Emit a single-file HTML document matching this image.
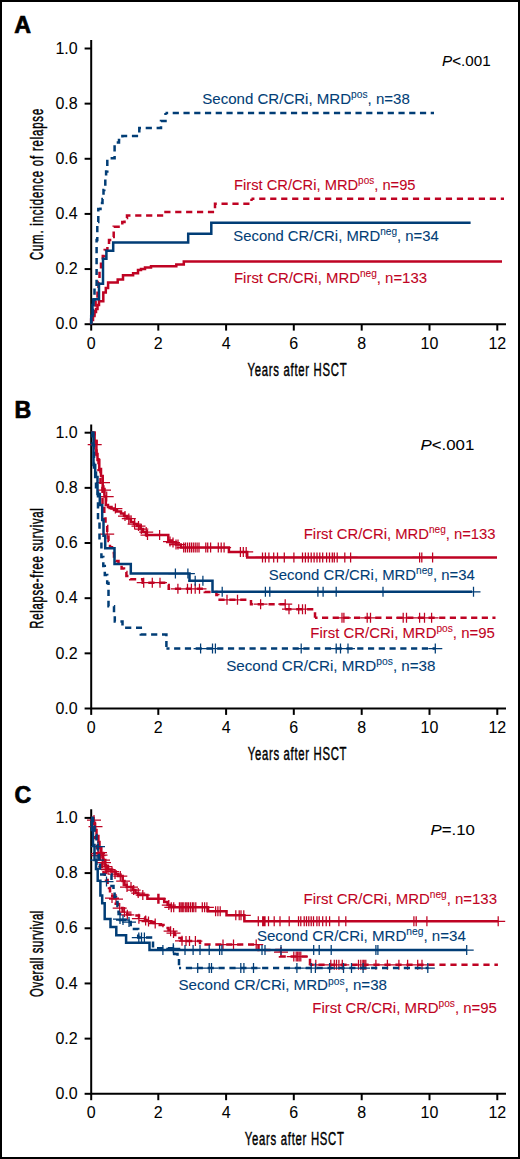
<!DOCTYPE html>
<html><head><meta charset="utf-8"><style>
html,body{margin:0;padding:0;background:#fff;}
body{width:520px;height:1159px;overflow:hidden;}
svg{display:block;}
text{font-family:"Liberation Sans",sans-serif;}
.w{stroke-width:0.4px;}
</style></head><body>
<svg width="520" height="1159" viewBox="0 0 520 1159" font-family="Liberation Sans, sans-serif">
<rect x="0" y="0" width="520" height="1159" fill="#fff"/>
<rect x="1" y="1" width="518" height="1157" fill="none" stroke="#000" stroke-width="2"/>
<text x="14.2" y="33.4" font-size="23.2" font-weight="bold" stroke="#000" stroke-width="0.7">A</text>
<path d="M91.2 40.0V324.2H506.0" fill="none" stroke="#000" stroke-width="2"/>
<path d="M84.6 324.20H91.2" stroke="#000" stroke-width="2"/>
<text x="77.7" y="329.40" font-size="16" text-anchor="end" stroke="#000" stroke-width="0.05">0.0</text>
<path d="M84.6 269.06H91.2" stroke="#000" stroke-width="2"/>
<text x="77.7" y="274.26" font-size="16" text-anchor="end" stroke="#000" stroke-width="0.05">0.2</text>
<path d="M84.6 213.92H91.2" stroke="#000" stroke-width="2"/>
<text x="77.7" y="219.12" font-size="16" text-anchor="end" stroke="#000" stroke-width="0.05">0.4</text>
<path d="M84.6 158.78H91.2" stroke="#000" stroke-width="2"/>
<text x="77.7" y="163.98" font-size="16" text-anchor="end" stroke="#000" stroke-width="0.05">0.6</text>
<path d="M84.6 103.64H91.2" stroke="#000" stroke-width="2"/>
<text x="77.7" y="108.84" font-size="16" text-anchor="end" stroke="#000" stroke-width="0.05">0.8</text>
<path d="M84.6 48.50H91.2" stroke="#000" stroke-width="2"/>
<text x="77.7" y="53.70" font-size="16" text-anchor="end" stroke="#000" stroke-width="0.05">1.0</text>
<path d="M91.20 324.2V330.60" stroke="#000" stroke-width="2"/>
<text x="91.20" y="348.80" font-size="16" text-anchor="middle" stroke="#000" stroke-width="0.05">0</text>
<path d="M158.30 324.2V330.60" stroke="#000" stroke-width="2"/>
<text x="158.30" y="348.80" font-size="16" text-anchor="middle" stroke="#000" stroke-width="0.05">2</text>
<path d="M226.10 324.2V330.60" stroke="#000" stroke-width="2"/>
<text x="226.10" y="348.80" font-size="16" text-anchor="middle" stroke="#000" stroke-width="0.05">4</text>
<path d="M293.80 324.2V330.60" stroke="#000" stroke-width="2"/>
<text x="293.80" y="348.80" font-size="16" text-anchor="middle" stroke="#000" stroke-width="0.05">6</text>
<path d="M361.70 324.2V330.60" stroke="#000" stroke-width="2"/>
<text x="361.70" y="348.80" font-size="16" text-anchor="middle" stroke="#000" stroke-width="0.05">8</text>
<path d="M429.50 324.2V330.60" stroke="#000" stroke-width="2"/>
<text x="429.50" y="348.80" font-size="16" text-anchor="middle" stroke="#000" stroke-width="0.05">10</text>
<path d="M497.30 324.2V330.60" stroke="#000" stroke-width="2"/>
<text x="497.30" y="348.80" font-size="16" text-anchor="middle" stroke="#000" stroke-width="0.05">12</text>
<text transform="translate(42.8 184.45) rotate(-90) scale(0.6 1)" font-size="18.9" text-anchor="middle" stroke="#000" stroke-width="0.45" textLength="252.17" lengthAdjust="spacing">Cum. incidence of relapse</text>
<text transform="translate(297.10 375.5) scale(0.6 1)" font-size="18.9" text-anchor="middle" stroke="#000" stroke-width="0.45" textLength="165.00" lengthAdjust="spacing">Years after HSCT</text>
<path d="M91.2 324.2V318H94V310H95.6V300H97.5V290H98.5V282H99.5V270H101V262H102.8V256H104.7V250H107.4V244H109V240H111.5V237H113.7V226.7H122.3V222H124.5V218H127V215.6H165.5V212H215V203.8H251.5V198.8" fill="none" stroke="#bf0323" stroke-width="2.5" stroke-dasharray="6.2,4.7"/>
<path d="M251.5 198.8H504.0" fill="none" stroke="#bf0323" stroke-width="2.5" stroke-dasharray="6.2,4.78" stroke-dashoffset="3.28"/>
<path d="M91.2 324.2V320H93V316H94.5V312H96V309H97.5V305H99V301.2H103.3V292.5H105.8V288H108.1V282.4H117.7V279.5H123V275.2H133.1V273.3H138V270H141V269H145V267.5H151V266.2H176.3V264.5H183.8V261.4H502" fill="none" stroke="#bf0323" stroke-width="2.5" stroke-linejoin="miter"/>
<path d="M91.2 324.2V316H93V300H94.5V286H96.6V240H97.3V222H98.3V209H100.5V203H102.5V199H103.5V190H104.3V186H105.3V178H106.1V171.6H107.3V158.3H114.6V142.6H119V140H122.4V136H139.3V128H161V121H165.5V113.0" fill="none" stroke="#013d76" stroke-width="2.5" stroke-dasharray="6.2,4.7"/>
<path d="M165.5 113.0H434.0" fill="none" stroke="#013d76" stroke-width="2.5" stroke-dasharray="6.2,4.55" stroke-dashoffset="3.55"/>
<path d="M91.2 324.2V316H92.5V305H93.5V299.2H99V283.8H103V258.8H106.4V250.7H113.2V242.5H188.2V233.7H211.3V222.7H470.6" fill="none" stroke="#013d76" stroke-width="2.5" stroke-linejoin="miter"/>
<text x="202.3" y="103.5" fill="#013d76" stroke="#013d76" stroke-width="0.08" font-size="15" textLength="207.5" lengthAdjust="spacingAndGlyphs">Second CR/CRi, MRD<tspan font-size="10.2" dy="-5.9">pos</tspan><tspan dy="5.9">, n=38</tspan></text>
<text x="234.0" y="189.8" fill="#bf0323" stroke="#bf0323" stroke-width="0.08" font-size="15" textLength="181.5" lengthAdjust="spacingAndGlyphs">First CR/CRi, MRD<tspan font-size="10.2" dy="-5.9">pos</tspan><tspan dy="5.9">, n=95</tspan></text>
<text x="233.3" y="241.3" fill="#013d76" stroke="#013d76" stroke-width="0.08" font-size="15" textLength="205.5" lengthAdjust="spacingAndGlyphs">Second CR/CRi, MRD<tspan font-size="10.2" dy="-5.9">neg</tspan><tspan dy="5.9">, n=34</tspan></text>
<text x="234.0" y="283.3" fill="#bf0323" stroke="#bf0323" stroke-width="0.08" font-size="15" textLength="193.0" lengthAdjust="spacingAndGlyphs">First CR/CRi, MRD<tspan font-size="10.2" dy="-5.9">neg</tspan><tspan dy="5.9">, n=133</tspan></text>
<text x="442.0" y="65.5" font-size="15.2" stroke="#000" stroke-width="0.05" textLength="48.6" lengthAdjust="spacingAndGlyphs"><tspan font-style="italic">P</tspan>&lt;.001</text>
<text x="14.6" y="417.6" font-size="23.2" font-weight="bold" stroke="#000" stroke-width="0.7">B</text>
<path d="M91.2 424.4V708.5H506.0" fill="none" stroke="#000" stroke-width="2"/>
<path d="M84.6 708.50H91.2" stroke="#000" stroke-width="2"/>
<text x="77.7" y="713.70" font-size="16" text-anchor="end" stroke="#000" stroke-width="0.05">0.0</text>
<path d="M84.6 653.34H91.2" stroke="#000" stroke-width="2"/>
<text x="77.7" y="658.54" font-size="16" text-anchor="end" stroke="#000" stroke-width="0.05">0.2</text>
<path d="M84.6 598.18H91.2" stroke="#000" stroke-width="2"/>
<text x="77.7" y="603.38" font-size="16" text-anchor="end" stroke="#000" stroke-width="0.05">0.4</text>
<path d="M84.6 543.02H91.2" stroke="#000" stroke-width="2"/>
<text x="77.7" y="548.22" font-size="16" text-anchor="end" stroke="#000" stroke-width="0.05">0.6</text>
<path d="M84.6 487.86H91.2" stroke="#000" stroke-width="2"/>
<text x="77.7" y="493.06" font-size="16" text-anchor="end" stroke="#000" stroke-width="0.05">0.8</text>
<path d="M84.6 432.70H91.2" stroke="#000" stroke-width="2"/>
<text x="77.7" y="437.90" font-size="16" text-anchor="end" stroke="#000" stroke-width="0.05">1.0</text>
<path d="M91.20 708.5V714.90" stroke="#000" stroke-width="2"/>
<text x="91.20" y="733.10" font-size="16" text-anchor="middle" stroke="#000" stroke-width="0.05">0</text>
<path d="M158.30 708.5V714.90" stroke="#000" stroke-width="2"/>
<text x="158.30" y="733.10" font-size="16" text-anchor="middle" stroke="#000" stroke-width="0.05">2</text>
<path d="M226.10 708.5V714.90" stroke="#000" stroke-width="2"/>
<text x="226.10" y="733.10" font-size="16" text-anchor="middle" stroke="#000" stroke-width="0.05">4</text>
<path d="M293.80 708.5V714.90" stroke="#000" stroke-width="2"/>
<text x="293.80" y="733.10" font-size="16" text-anchor="middle" stroke="#000" stroke-width="0.05">6</text>
<path d="M361.70 708.5V714.90" stroke="#000" stroke-width="2"/>
<text x="361.70" y="733.10" font-size="16" text-anchor="middle" stroke="#000" stroke-width="0.05">8</text>
<path d="M429.50 708.5V714.90" stroke="#000" stroke-width="2"/>
<text x="429.50" y="733.10" font-size="16" text-anchor="middle" stroke="#000" stroke-width="0.05">10</text>
<path d="M497.30 708.5V714.90" stroke="#000" stroke-width="2"/>
<text x="497.30" y="733.10" font-size="16" text-anchor="middle" stroke="#000" stroke-width="0.05">12</text>
<text transform="translate(42.8 568.45) rotate(-90) scale(0.6 1)" font-size="18.9" text-anchor="middle" stroke="#000" stroke-width="0.45" textLength="200.83" lengthAdjust="spacing">Relapse-free survival</text>
<text transform="translate(297.12 759.6) scale(0.6 1)" font-size="18.9" text-anchor="middle" stroke="#000" stroke-width="0.45" textLength="164.42" lengthAdjust="spacing">Years after HSCT</text>
<path d="M91.2 432.7H94.5V441H96.5V455H98.5V470H100.5V485H102.5V505H104.3V518.5H105.5V526H107.2V534H108.5V541H110V547.3H112V553H114V558H115.8V561H118.5V565H121.6V568.5H124V572H126.4V576H130.2V579.2H142.7V582.7H166.8V585H168.7V588.8H204.8V592H216.4V595H218.3V599.8H251V604.2H286.5V609.2H315.0V617.8" fill="none" stroke="#bf0323" stroke-width="2.5" stroke-dasharray="6.2,4.7"/>
<path d="M315.0 617.8H495.5" fill="none" stroke="#bf0323" stroke-width="2.5" stroke-dasharray="6.2,4.45" stroke-dashoffset="3.65"/>
<path d="M91.2 432.7H94.6V441H96.4V454H97.5V460H99.3V469H101V476H102.7V489H104.5V496.5H105.8V505H108V507H111.5V508.5H114V510H117V511.5H121V513.5H124V516H127V518.5H130.8V522H134V524H137V526H140.4V529H143V532H146V535H168.3V540.4H172V542.5H176V544.5H180.8V547.5H228.9V551.9H247.2V557.4H497" fill="none" stroke="#bf0323" stroke-width="2.5" stroke-linejoin="miter"/>
<path d="M87.7 444.5h14M94.7 439.5v10M96.0 482.6h14M103.0 477.6v10M97.0 490.2h14M104.0 485.2v10M99.7 496.5h14M106.7 491.5v10M108.4 508.5h14M115.4 503.5v10M118.0 516.0h14M125.0 511.0v10M121.8 518.5h14M128.8 513.5v10M127.6 524.0h14M134.6 519.0v10M131.5 526.0h14M138.5 521.0v10M134.3 529.0h14M141.3 524.0v10M139.2 532.0h14M146.2 527.0v10M140.5 535.0h14M147.5 530.0v10M152.6 535.0h14M159.6 530.0v10M163.0 541.5h14M170.0 536.5v10M166.0 542.5h14M173.0 537.5v10M169.0 544.5h14M176.0 539.5v10M171.0 544.5h14M178.0 539.5v10" fill="none" stroke="#bf0323" stroke-width="1.25"/>
<path d="M176.7 547.5h14M183.7 542.5v10M178.5 547.5h14M185.5 542.5v10M180.5 547.5h14M187.5 542.5v10M182.5 547.5h14M189.5 542.5v10M184.4 547.5h14M191.4 542.5v10M186.3 547.5h14M193.3 542.5v10M188.2 547.5h14M195.2 542.5v10M190.1 547.5h14M197.1 542.5v10M192.0 547.5h14M199.0 542.5v10M198.8 547.5h14M205.8 542.5v10M200.7 547.5h14M207.7 542.5v10M203.6 547.5h14M210.6 542.5v10M211.3 547.5h14M218.3 542.5v10M214.2 547.5h14M221.2 542.5v10M217.1 547.5h14M224.1 542.5v10" fill="none" stroke="#bf0323" stroke-width="1.25"/>
<path d="M233.4 551.9h14M240.4 546.9v10M236.3 551.9h14M243.3 546.9v10M239.2 551.9h14M246.2 546.9v10" fill="none" stroke="#bf0323" stroke-width="1.25"/>
<path d="M255.5 557.4h14M262.5 552.4v10M258.4 557.4h14M265.4 552.4v10M261.9 557.4h14M268.9 552.4v10M266.7 557.4h14M273.7 552.4v10M270.5 557.4h14M277.5 552.4v10M277.3 557.4h14M284.3 552.4v10M286.9 557.4h14M293.9 552.4v10M295.5 557.4h14M302.5 552.4v10M298.4 557.4h14M305.4 552.4v10M301.3 557.4h14M308.3 552.4v10M304.2 557.4h14M311.2 552.4v10M307.1 557.4h14M314.1 552.4v10M310.0 557.4h14M317.0 552.4v10M312.8 557.4h14M319.8 552.4v10M315.7 557.4h14M322.7 552.4v10M319.6 557.4h14M326.6 552.4v10M322.5 557.4h14M329.5 552.4v10M325.3 557.4h14M332.3 552.4v10M327.3 557.4h14M334.3 552.4v10M330.2 557.4h14M337.2 552.4v10M337.8 557.4h14M344.8 552.4v10M343.6 557.4h14M350.6 552.4v10M412.6 557.4h14M419.6 552.4v10M414.8 557.4h14M421.8 552.4v10M425.6 557.4h14M432.6 552.4v10" fill="none" stroke="#bf0323" stroke-width="1.25"/>
<path d="M100.2 534.0h14M107.2 529.0v10" fill="none" stroke="#bf0323" stroke-width="1.25"/>
<path d="M136.7 582.7h14M143.7 577.7v10M145.3 582.7h14M152.3 577.7v10M153.0 582.7h14M160.0 577.7v10" fill="none" stroke="#bf0323" stroke-width="1.25"/>
<path d="M170.9 588.8h14M177.9 583.8v10M180.5 588.8h14M187.5 583.8v10M184.4 588.8h14M191.4 583.8v10M188.2 588.8h14M195.2 583.8v10M192.5 588.8h14M199.5 583.8v10" fill="none" stroke="#bf0323" stroke-width="1.25"/>
<path d="M220.0 599.8h14M227.0 594.8v10M230.5 599.8h14M237.5 594.8v10" fill="none" stroke="#bf0323" stroke-width="1.25"/>
<path d="M253.6 604.2h14M260.6 599.2v10M278.2 604.2h14M285.2 599.2v10" fill="none" stroke="#bf0323" stroke-width="1.25"/>
<path d="M282.0 609.2h14M289.0 604.2v10M291.7 609.2h14M298.7 604.2v10M295.5 609.2h14M302.5 604.2v10M298.4 609.2h14M305.4 604.2v10" fill="none" stroke="#bf0323" stroke-width="1.25"/>
<path d="M335.0 617.8h14M342.0 612.8v10M336.9 617.8h14M343.9 612.8v10M360.2 617.8h14M367.2 612.8v10M363.5 617.8h14M370.5 612.8v10M396.2 617.8h14M403.2 612.8v10M399.5 617.8h14M406.5 612.8v10M412.6 617.8h14M419.6 612.8v10M417.5 617.8h14M424.5 612.8v10M424.6 617.8h14M431.6 612.8v10" fill="none" stroke="#bf0323" stroke-width="1.25"/>
<path d="M91.2 432.7H92.5V445H94V470H96V490H98V520H99.5V540H101.4V557H103.3V566H104.8V575H107.2V583H108.5V606.2H114V614H114.8V621.5H122.5V627.7H140.8V634.4H166.4V648.6" fill="none" stroke="#013d76" stroke-width="2.5" stroke-dasharray="6.2,4.7"/>
<path d="M166.4 648.6H435.5" fill="none" stroke="#013d76" stroke-width="2.5" stroke-dasharray="6.2,4.57" stroke-dashoffset="3.07"/>
<path d="M91.2 432.7H93.5V465H95.2V477H97.5V494H99.8V505H102.2V520H103.5V535.8H105.2V548.3H114.5V564H130.8V573.6H189.5V580.8H212.5V591.8H472" fill="none" stroke="#013d76" stroke-width="2.5" stroke-linejoin="miter"/>
<path d="M168.4 573.6h14M175.4 568.6v10M180.9 573.6h14M187.9 568.6v10" fill="none" stroke="#013d76" stroke-width="1.25"/>
<path d="M188.2 580.8h14M195.2 575.8v10M195.9 580.8h14M202.9 575.8v10" fill="none" stroke="#013d76" stroke-width="1.25"/>
<path d="M215.2 591.8h14M222.2 586.8v10M258.4 591.8h14M265.4 586.8v10M262.8 591.8h14M269.8 586.8v10M310.9 591.8h14M317.9 586.8v10M316.1 591.8h14M323.1 586.8v10M329.2 591.8h14M336.2 586.8v10M376.0 591.8h14M383.0 586.8v10M466.5 591.8h14M473.5 586.8v10" fill="none" stroke="#013d76" stroke-width="1.25"/>
<path d="M193.6 648.6h14M200.6 643.6v10M205.5 648.6h14M212.5 643.6v10M208.4 648.6h14M215.4 643.6v10M294.2 648.6h14M301.2 643.6v10M329.2 648.6h14M336.2 643.6v10M333.5 648.6h14M340.5 643.6v10M341.0 648.6h14M348.0 643.6v10M428.3 648.6h14M435.3 643.6v10" fill="none" stroke="#013d76" stroke-width="1.25"/>
<text x="303.8" y="538.8" fill="#bf0323" stroke="#bf0323" stroke-width="0.08" font-size="15" textLength="191.8" lengthAdjust="spacingAndGlyphs">First CR/CRi, MRD<tspan font-size="10.2" dy="-5.9">neg</tspan><tspan dy="5.9">, n=133</tspan></text>
<text x="268.8" y="580.3" fill="#013d76" stroke="#013d76" stroke-width="0.08" font-size="15" textLength="206.0" lengthAdjust="spacingAndGlyphs">Second CR/CRi, MRD<tspan font-size="10.2" dy="-5.9">neg</tspan><tspan dy="5.9">, n=34</tspan></text>
<text x="310.3" y="637.7" fill="#bf0323" stroke="#bf0323" stroke-width="0.08" font-size="15" textLength="184.5" lengthAdjust="spacingAndGlyphs">First CR/CRi, MRD<tspan font-size="10.2" dy="-5.9">pos</tspan><tspan dy="5.9">, n=95</tspan></text>
<text x="226.2" y="671.2" fill="#013d76" stroke="#013d76" stroke-width="0.08" font-size="15" textLength="209.3" lengthAdjust="spacingAndGlyphs">Second CR/CRi, MRD<tspan font-size="10.2" dy="-5.9">pos</tspan><tspan dy="5.9">, n=38</tspan></text>
<text x="420.5" y="449.9" font-size="15.2" stroke="#000" stroke-width="0.05" textLength="53.8" lengthAdjust="spacingAndGlyphs"><tspan font-style="italic">P</tspan>&lt;.001</text>
<text x="14.4" y="802.7" font-size="23.2" font-weight="bold" stroke="#000" stroke-width="0.7">C</text>
<path d="M91.2 809.2V1093.8H506.0" fill="none" stroke="#000" stroke-width="2"/>
<path d="M84.6 1093.80H91.2" stroke="#000" stroke-width="2"/>
<text x="77.7" y="1099.00" font-size="16" text-anchor="end" stroke="#000" stroke-width="0.05">0.0</text>
<path d="M84.6 1038.62H91.2" stroke="#000" stroke-width="2"/>
<text x="77.7" y="1043.82" font-size="16" text-anchor="end" stroke="#000" stroke-width="0.05">0.2</text>
<path d="M84.6 983.44H91.2" stroke="#000" stroke-width="2"/>
<text x="77.7" y="988.64" font-size="16" text-anchor="end" stroke="#000" stroke-width="0.05">0.4</text>
<path d="M84.6 928.26H91.2" stroke="#000" stroke-width="2"/>
<text x="77.7" y="933.46" font-size="16" text-anchor="end" stroke="#000" stroke-width="0.05">0.6</text>
<path d="M84.6 873.08H91.2" stroke="#000" stroke-width="2"/>
<text x="77.7" y="878.28" font-size="16" text-anchor="end" stroke="#000" stroke-width="0.05">0.8</text>
<path d="M84.6 817.90H91.2" stroke="#000" stroke-width="2"/>
<text x="77.7" y="823.10" font-size="16" text-anchor="end" stroke="#000" stroke-width="0.05">1.0</text>
<path d="M91.20 1093.8V1100.20" stroke="#000" stroke-width="2"/>
<text x="91.20" y="1118.40" font-size="16" text-anchor="middle" stroke="#000" stroke-width="0.05">0</text>
<path d="M158.30 1093.8V1100.20" stroke="#000" stroke-width="2"/>
<text x="158.30" y="1118.40" font-size="16" text-anchor="middle" stroke="#000" stroke-width="0.05">2</text>
<path d="M226.10 1093.8V1100.20" stroke="#000" stroke-width="2"/>
<text x="226.10" y="1118.40" font-size="16" text-anchor="middle" stroke="#000" stroke-width="0.05">4</text>
<path d="M293.80 1093.8V1100.20" stroke="#000" stroke-width="2"/>
<text x="293.80" y="1118.40" font-size="16" text-anchor="middle" stroke="#000" stroke-width="0.05">6</text>
<path d="M361.70 1093.8V1100.20" stroke="#000" stroke-width="2"/>
<text x="361.70" y="1118.40" font-size="16" text-anchor="middle" stroke="#000" stroke-width="0.05">8</text>
<path d="M429.50 1093.8V1100.20" stroke="#000" stroke-width="2"/>
<text x="429.50" y="1118.40" font-size="16" text-anchor="middle" stroke="#000" stroke-width="0.05">10</text>
<path d="M497.30 1093.8V1100.20" stroke="#000" stroke-width="2"/>
<text x="497.30" y="1118.40" font-size="16" text-anchor="middle" stroke="#000" stroke-width="0.05">12</text>
<text transform="translate(42.8 953.85) rotate(-90) scale(0.6 1)" font-size="18.9" text-anchor="middle" stroke="#000" stroke-width="0.45" textLength="143.83" lengthAdjust="spacing">Overall survival</text>
<text transform="translate(294.38 1144.8) scale(0.6 1)" font-size="18.9" text-anchor="middle" stroke="#000" stroke-width="0.45" textLength="165.25" lengthAdjust="spacing">Years after HSCT</text>
<path d="M91.2 817.9H93V828H95V838H97V848H99V854.2H100.5V862H101.8V869.2H103.5V873H104.7V876.2H106V880H107.6V884.2H109V888H110V891.2H112.2V895.8H114V900H115.7V903.8H118V906H120.3V908H122.6V912.7H127.2V914.5H133V915.5H139V917.3H145V920H150.8V922H153.8V923H157.7V925H163.5V926H165.4V928H168.5V930H172.3V932.3H174.6V935H177.5V938H181.5V941H200V944.5H258.5V950H280V956.5H310.0V964.8" fill="none" stroke="#bf0323" stroke-width="2.5" stroke-dasharray="6.2,4.7"/>
<path d="M310.0 964.8H497.9" fill="none" stroke="#bf0323" stroke-width="2.5" stroke-dasharray="6.2,4.80" stroke-dashoffset="2.60"/>
<path d="M91.2 817.9H93.5V824H95V830H96.5V836H98.4V842H99.5V848H101.3V853H103V860H105.3V866H108V869.5H111V871.5H115.7V874H118V876H122.6V881H124.5V885H126.7V887H133V890H135.5V893H138.2V895H147.4V898.8H164.2V902H167.6V905H170.4V907.3H208.1V911.3H226.5V915.3H244.4V921.3H498.2" fill="none" stroke="#bf0323" stroke-width="2.5" stroke-linejoin="miter"/>
<path d="M87.0 820.0h14M94.0 815.0v10M88.5 826.5h14M95.5 821.5v10M93.0 852.5h14M100.0 847.5v10M93.5 855.0h14M100.5 850.0v10M96.0 860.0h14M103.0 855.0v10M98.3 866.5h14M105.3 861.5v10M101.0 869.5h14M108.0 864.5v10M105.0 871.5h14M112.0 866.5v10M108.0 874.0h14M115.0 869.0v10M113.3 876.0h14M120.3 871.0v10M116.2 881.0h14M123.2 876.0v10M120.0 887.0h14M127.0 882.0v10M124.0 887.0h14M131.0 882.0v10M126.6 890.0h14M133.6 885.0v10M131.2 893.0h14M138.2 888.0v10M135.8 895.0h14M142.8 890.0v10M150.8 898.8h14M157.8 893.8v10M152.0 898.8h14M159.0 893.8v10M161.8 905.0h14M168.8 900.0v10" fill="none" stroke="#bf0323" stroke-width="1.25"/>
<path d="M164.3 907.3h14M171.3 902.3v10M166.7 907.3h14M173.7 902.3v10M172.4 907.3h14M179.4 902.3v10M173.9 907.3h14M180.9 902.3v10M175.3 907.3h14M182.3 902.3v10M176.8 907.3h14M183.8 902.3v10M178.7 907.3h14M185.7 902.3v10M180.1 907.3h14M187.1 902.3v10M181.6 907.3h14M188.6 902.3v10M183.5 907.3h14M190.5 902.3v10M185.4 907.3h14M192.4 902.3v10M186.8 907.3h14M193.8 902.3v10M188.8 907.3h14M195.8 902.3v10M195.3 907.3h14M202.3 902.3v10M197.6 907.3h14M204.6 902.3v10M199.9 907.3h14M206.9 902.3v10" fill="none" stroke="#bf0323" stroke-width="1.25"/>
<path d="M208.6 911.3h14M215.6 906.3v10M210.9 911.3h14M217.9 906.3v10M213.2 911.3h14M220.2 906.3v10" fill="none" stroke="#bf0323" stroke-width="1.25"/>
<path d="M228.8 915.3h14M235.8 910.3v10M232.2 915.3h14M239.2 910.3v10M234.0 915.3h14M241.0 910.3v10M236.8 915.3h14M243.8 910.3v10" fill="none" stroke="#bf0323" stroke-width="1.25"/>
<path d="M251.3 921.3h14M258.3 916.3v10M255.7 921.3h14M262.7 916.3v10M256.8 921.3h14M263.8 916.3v10M258.0 921.3h14M265.0 916.3v10M261.5 921.3h14M268.5 916.3v10M267.2 921.3h14M274.2 916.3v10M273.0 921.3h14M280.0 916.3v10M282.2 921.3h14M289.2 916.3v10M291.5 921.3h14M298.5 916.3v10M293.8 921.3h14M300.8 916.3v10M297.2 921.3h14M304.2 916.3v10M299.5 921.3h14M306.5 916.3v10M301.8 921.3h14M308.8 916.3v10M304.2 921.3h14M311.2 916.3v10M306.5 921.3h14M313.5 916.3v10M309.9 921.3h14M316.9 916.3v10M312.2 921.3h14M319.2 916.3v10M315.7 921.3h14M322.7 916.3v10M319.2 921.3h14M326.2 916.3v10M322.6 921.3h14M329.6 916.3v10M331.9 921.3h14M338.9 916.3v10M338.8 921.3h14M345.8 916.3v10M406.9 921.3h14M413.9 916.3v10M409.2 921.3h14M416.2 916.3v10M419.9 921.3h14M426.9 916.3v10M491.2 921.3h14M498.2 916.3v10" fill="none" stroke="#bf0323" stroke-width="1.25"/>
<path d="M91.0 853.5h14M98.0 848.5v10M91.5 855.5h14M98.5 850.5v10M97.0 862.5h14M104.0 857.5v10M99.5 869.0h14M106.5 864.0v10M105.0 898.0h14M112.0 893.0v10M109.0 899.0h14M116.0 894.0v10M112.7 908.0h14M119.7 903.0v10M117.5 912.0h14M124.5 907.0v10M120.3 914.8h14M127.3 909.8v10M131.9 918.7h14M138.9 913.7v10M138.6 920.6h14M145.6 915.6v10M141.5 921.5h14M148.5 916.5v10M148.2 923.5h14M155.2 918.5v10M163.6 931.2h14M170.6 926.2v10M166.5 933.0h14M173.5 928.0v10M175.0 940.8h14M182.0 935.8v10" fill="none" stroke="#bf0323" stroke-width="1.25"/>
<path d="M179.0 941.0h14M186.0 936.0v10M182.5 941.0h14M189.5 936.0v10M188.4 941.0h14M195.4 936.0v10" fill="none" stroke="#bf0323" stroke-width="1.25"/>
<path d="M216.0 944.5h14M223.0 939.5v10M226.5 944.5h14M233.5 939.5v10M249.2 944.5h14M256.2 939.5v10" fill="none" stroke="#bf0323" stroke-width="1.25"/>
<path d="M274.0 952.0h14M281.0 947.0v10" fill="none" stroke="#bf0323" stroke-width="1.25"/>
<path d="M286.8 956.5h14M293.8 951.5v10M289.2 956.5h14M296.2 951.5v10M290.7 956.5h14M297.7 951.5v10M292.2 956.5h14M299.2 951.5v10M293.8 956.5h14M300.8 951.5v10" fill="none" stroke="#bf0323" stroke-width="1.25"/>
<path d="M308.8 964.8h14M315.8 959.8v10M323.8 964.8h14M330.8 959.8v10M327.3 964.8h14M334.3 959.8v10M329.5 964.8h14M336.5 959.8v10M331.9 964.8h14M338.9 959.8v10M335.3 964.8h14M342.3 959.8v10M351.5 964.8h14M358.5 959.8v10M353.8 964.8h14M360.8 959.8v10M357.2 964.8h14M364.2 959.8v10M355.9 964.8h14M362.9 959.8v10M358.8 964.8h14M365.8 959.8v10M368.9 964.8h14M375.9 959.8v10M380.4 964.8h14M387.4 959.8v10M391.9 964.8h14M398.9 959.8v10M400.6 964.8h14M407.6 959.8v10M410.7 964.8h14M417.7 959.8v10M415.0 964.8h14M422.0 959.8v10" fill="none" stroke="#bf0323" stroke-width="1.25"/>
<path d="M91.2 817.9H93V822H94.5V835H96.5V845H97.8V855H99V862H100V874.5H111.5V886H113.5V892H114.6V897H116V902H117.5V906H118.6V914H120V920H127V922H130.7V929H138.2V937.5H151V941H153V948.3H174.5V954H177.5V958.5H179.0V968.0" fill="none" stroke="#013d76" stroke-width="2.5" stroke-dasharray="6.2,4.7"/>
<path d="M179.0 968.0H428.5" fill="none" stroke="#013d76" stroke-width="2.5" stroke-dasharray="6.2,4.70" stroke-dashoffset="4.10"/>
<path d="M91.2 817.9H92V830H93V845H94.5V860H96V869H97.7V880.8H100.4V895.4H102.2V903.3H104.7V919H110.5V927.1H116.3V935.2H126.1V942.8H149.5V950.1H466.5" fill="none" stroke="#013d76" stroke-width="2.5" stroke-linejoin="miter"/>
<path d="M91.0 846.5h14M98.0 841.5v10M90.0 860.0h14M97.0 855.0v10M99.5 881.5h14M106.5 876.5v10" fill="none" stroke="#013d76" stroke-width="1.25"/>
<path d="M155.9 950.1h14M162.9 945.1v10M166.5 950.1h14M173.5 945.1v10M178.0 950.1h14M185.0 945.1v10M186.1 950.1h14M193.1 945.1v10M193.0 950.1h14M200.0 945.1v10M202.2 950.1h14M209.2 945.1v10M212.6 950.1h14M219.6 945.1v10M214.9 950.1h14M221.9 945.1v10M255.0 950.1h14M262.0 945.1v10M258.0 950.1h14M265.0 945.1v10M274.0 950.1h14M281.0 945.1v10M306.7 950.1h14M313.7 945.1v10M312.2 950.1h14M319.2 945.1v10M324.2 950.1h14M331.2 945.1v10M368.9 950.1h14M375.9 945.1v10M370.9 950.1h14M377.9 945.1v10M459.7 950.1h14M466.7 945.1v10" fill="none" stroke="#013d76" stroke-width="1.25"/>
<path d="M113.0 919.0h14M120.0 914.0v10M116.0 920.0h14M123.0 915.0v10M122.0 922.0h14M129.0 917.0v10M131.8 937.5h14M138.8 932.5v10M134.5 937.5h14M141.5 932.5v10M137.4 937.5h14M144.4 932.5v10M166.3 948.3h14M173.3 943.3v10" fill="none" stroke="#013d76" stroke-width="1.25"/>
<path d="M190.7 968.0h14M197.7 963.0v10M202.2 968.0h14M209.2 963.0v10M204.5 968.0h14M211.5 963.0v10M233.8 968.0h14M240.8 963.0v10M236.9 968.0h14M243.9 963.0v10M246.5 968.0h14M253.5 963.0v10M289.9 968.0h14M296.9 963.0v10M304.2 968.0h14M311.2 963.0v10M308.4 968.0h14M315.4 963.0v10M322.6 968.0h14M329.6 963.0v10M336.5 968.0h14M343.5 963.0v10M344.5 968.0h14M351.5 963.0v10M356.1 968.0h14M363.1 963.0v10M420.8 968.0h14M427.8 963.0v10" fill="none" stroke="#013d76" stroke-width="1.25"/>
<text x="303.5" y="904.2" fill="#bf0323" stroke="#bf0323" stroke-width="0.08" font-size="15" textLength="193.5" lengthAdjust="spacingAndGlyphs">First CR/CRi, MRD<tspan font-size="10.2" dy="-5.9">neg</tspan><tspan dy="5.9">, n=133</tspan></text>
<text x="256.9" y="940.5" fill="#013d76" stroke="#013d76" stroke-width="0.08" font-size="15" textLength="209.0" lengthAdjust="spacingAndGlyphs">Second CR/CRi, MRD<tspan font-size="10.2" dy="-5.9">neg</tspan><tspan dy="5.9">, n=34</tspan></text>
<text x="178.5" y="990.4" fill="#013d76" stroke="#013d76" stroke-width="0.08" font-size="15" textLength="208.5" lengthAdjust="spacingAndGlyphs">Second CR/CRi, MRD<tspan font-size="10.2" dy="-5.9">pos</tspan><tspan dy="5.9">, n=38</tspan></text>
<text x="312.3" y="1013.1" fill="#bf0323" stroke="#bf0323" stroke-width="0.08" font-size="15" textLength="184.6" lengthAdjust="spacingAndGlyphs">First CR/CRi, MRD<tspan font-size="10.2" dy="-5.9">pos</tspan><tspan dy="5.9">, n=95</tspan></text>
<text x="430.5" y="834.8" font-size="15.2" stroke="#000" stroke-width="0.05" textLength="44.3" lengthAdjust="spacingAndGlyphs"><tspan font-style="italic">P</tspan>=.10</text>
</svg></body></html>
